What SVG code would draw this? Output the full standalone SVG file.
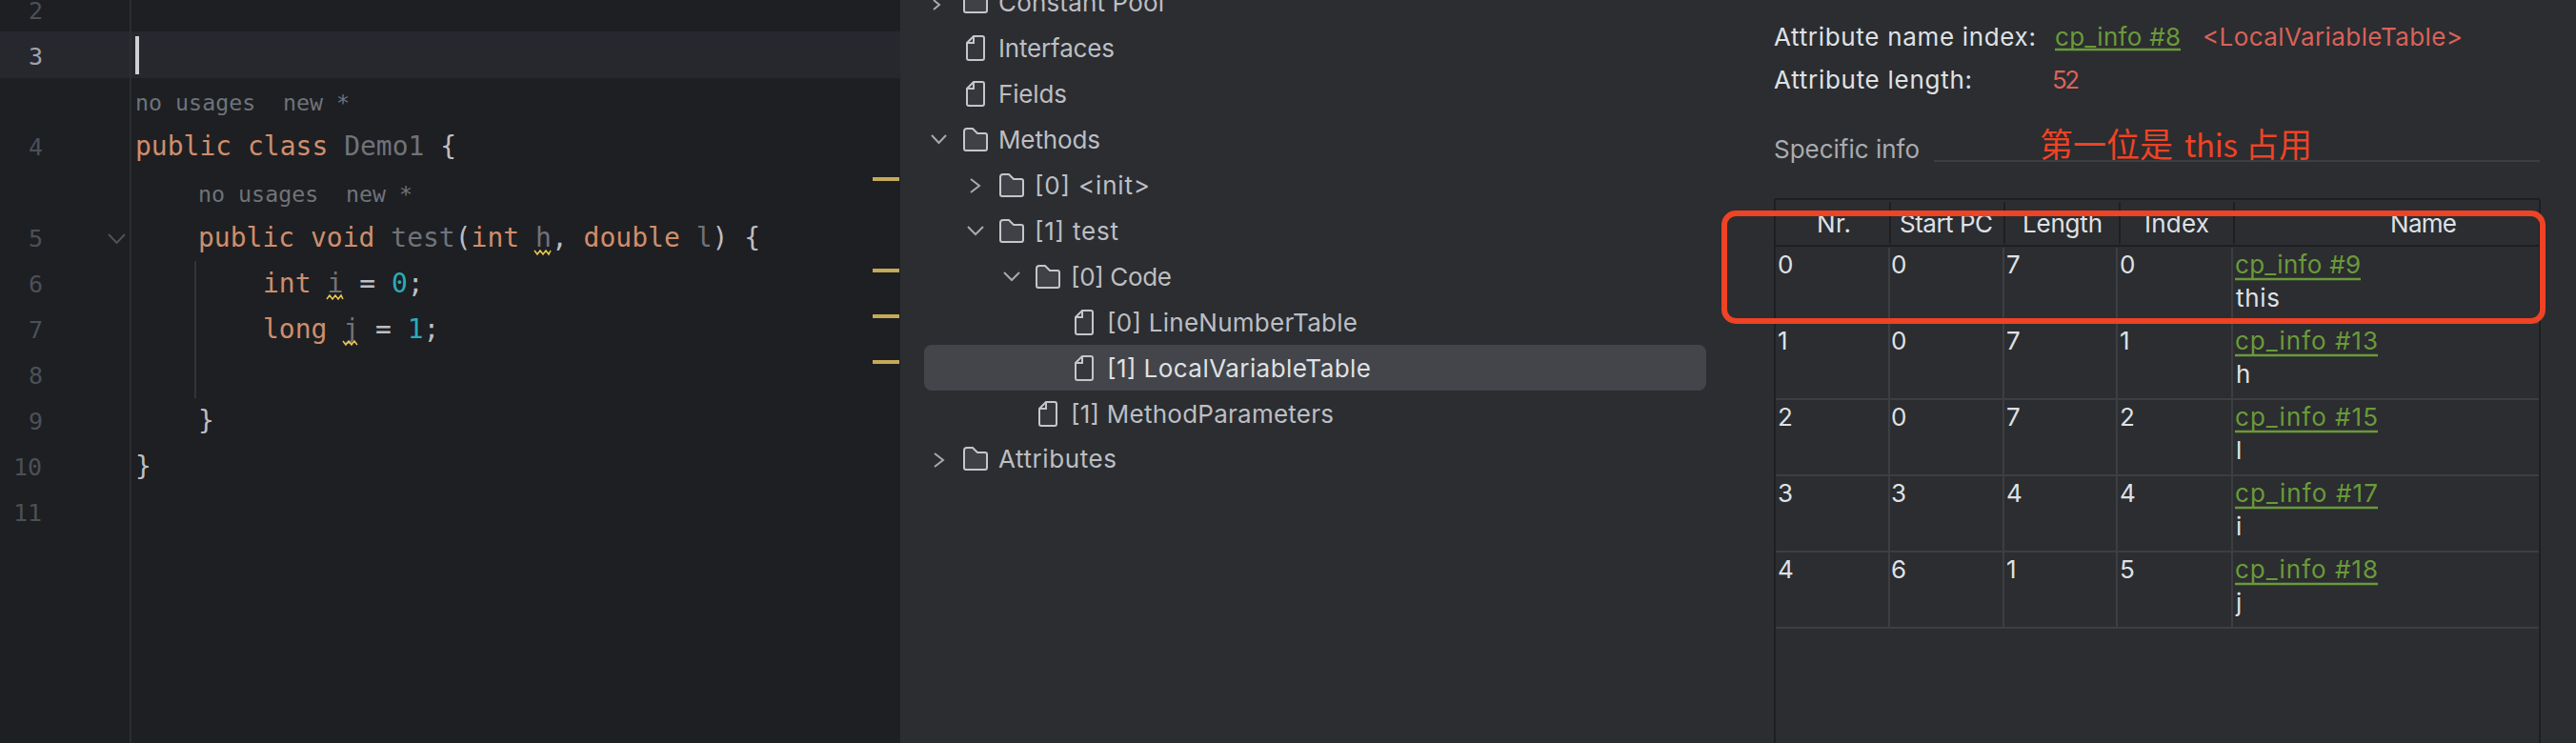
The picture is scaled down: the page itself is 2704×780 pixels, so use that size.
<svg xmlns="http://www.w3.org/2000/svg" xmlns:xlink="http://www.w3.org/1999/xlink" width="2704" height="780" viewBox="0 0 2704 780">
<style>
.m{font-family:"DejaVu Sans Mono","Liberation Mono",monospace;font-size:28px;fill:#bcbec4}
.k{fill:#cf8e6d}.u{fill:#6f737a}.n{fill:#2aacb8}
.g{font-family:"DejaVu Sans Mono","Liberation Mono",monospace;font-size:25px;fill:#4b5059}
.h{font-family:"DejaVu Sans Mono","Liberation Mono",monospace;font-size:23.3px;fill:#6f737a}
.t{font-family:Inter,"Noto Sans",sans-serif;font-size:26px;fill:#bcbec4}
.w{font-family:Inter,"Noto Sans",sans-serif;font-size:26px;fill:#dfe1e5}
.c{font-family:Inter,"Noto Sans",sans-serif;font-size:26px;fill:#6a9a3a}
.r{font-family:Inter,"Noto Sans",sans-serif;font-size:26px;fill:#d9625a}
.chev{fill:none;stroke:#a8aab0;stroke-width:2}
.wave{fill:none;stroke:#e8c84f;stroke-width:1.6}
.dark{stroke:#1e1f22;stroke-width:2;fill:none}
.row{stroke:#3c3e41;stroke-width:2;fill:none}
.ul{stroke:#6a9a3a;stroke-width:2.4;fill:none}
</style>
<defs>
<path id="folder" d="M1 4Q1 1 4 1H10L15 6H23Q25 6 25 8V22Q25 24 23 24H3Q1 24 1 22Z" fill="#3f4146" stroke="#c4c6cc" stroke-width="2"/>
<path id="file" d="M1 8L8 1H17Q19 1 19 3V24Q19 26 17 26H3Q1 26 1 24ZM8 1V8H1" fill="#35373b" stroke="#c4c6cc" stroke-width="2"/>
</defs>
<rect width="2704" height="780" fill="#2b2d30"/>
<g id="editor">
<rect x="0" y="0" width="945" height="780" fill="#1e1f22"/>
<rect x="0" y="33" width="945" height="49" fill="#26282e"/>
<line x1="137" y1="0" x2="137" y2="780" stroke="#2b2d30" stroke-width="2"/>
<line x1="205" y1="274" x2="205" y2="418" stroke="#313438" stroke-width="2"/>
<rect x="142" y="38" width="4" height="40" fill="#ced0d6"/>
<g fill="#c4a95a">
<rect x="916" y="186" width="28" height="4"/><rect x="916" y="282" width="28" height="4"/><rect x="916" y="330" width="28" height="4"/><rect x="916" y="378" width="28" height="4"/>
</g>
<path d="M114 246L122.500 255L131 246" fill="none" stroke="#4e5157" stroke-width="2"/>
<text class="g" x="30" y="20">2</text>
<text class="g" x="30" y="68" style="fill:#a1a3ab">3</text>
<text class="g" x="30" y="163">4</text>
<text class="g" x="30" y="259">5</text>
<text class="g" x="30" y="307">6</text>
<text class="g" x="30" y="355">7</text>
<text class="g" x="30" y="403">8</text>
<text class="g" x="30" y="451">9</text>
<text class="g" x="14" y="499">10</text>
<text class="g" x="14" y="547">11</text>
<text class="h" x="142" y="116">no usages <tspan x="297">new *</tspan></text>
<text class="h" x="208" y="212">no usages <tspan x="363">new *</tspan></text>
<text class="m" x="142" y="163"><tspan class="k">public class </tspan><tspan class="u">Demo1</tspan> {</text>
<text class="m" x="208" y="259"><tspan class="k">public void </tspan><tspan class="u">test</tspan>(<tspan class="k">int </tspan><tspan class="u">h</tspan>, <tspan class="k">double </tspan><tspan class="u">l</tspan>) {</text>
<text class="m" x="276" y="307"><tspan class="k">int </tspan><tspan class="u">i</tspan> = <tspan class="n">0</tspan>;</text>
<text class="m" x="276" y="355"><tspan class="k">long </tspan><tspan class="u">j</tspan> = <tspan class="n">1</tspan>;</text>
<text class="m" x="208" y="451">}</text>
<text class="m" x="142" y="499">}</text>
<path class="wave" d="M561 263L564 267L567 263L570 267L573 263L576 267L578 263"/>
<path class="wave" d="M343 314L346 310L349 314L352 310L355 314L358 310L360 314"/>
<path class="wave" d="M360 358L363 362L366 358L369 362L372 358L375 362"/>
</g>
<g id="tree">
<rect x="970" y="362" width="821" height="48" rx="8" fill="#43454a"/>
<path class="chev" d="M980 0L986 5L980 10"/>
<path class="chev" d="M978 142L985.500 150L993 142"/>
<path class="chev" d="M1019 188L1028 195L1019 202"/>
<path class="chev" d="M1016 238L1024 246L1032 238"/>
<path class="chev" d="M1054 286L1062 294L1070 286"/>
<path class="chev" d="M981 476L990 483L981 490"/>
<use xlink:href="#folder" href="#folder" x="1011" y="-11"/>
<use xlink:href="#file" href="#file" x="1014" y="37"/>
<use xlink:href="#file" href="#file" x="1014" y="85"/>
<use xlink:href="#folder" href="#folder" x="1011" y="134"/>
<use xlink:href="#folder" href="#folder" x="1049" y="182"/>
<use xlink:href="#folder" href="#folder" x="1049" y="230"/>
<use xlink:href="#folder" href="#folder" x="1087" y="278"/>
<use xlink:href="#file" href="#file" x="1128" y="325"/>
<use xlink:href="#file" href="#file" x="1128" y="373"/>
<use xlink:href="#file" href="#file" x="1090" y="421"/>
<use xlink:href="#folder" href="#folder" x="1011" y="469"/>
<text class="t" x="1048" y="12" textLength="174">Constant Pool</text>
<text class="t" x="1048" y="60" textLength="122">Interfaces</text>
<text class="t" x="1048" y="108" textLength="72">Fields</text>
<text class="t" x="1048" y="156" textLength="107">Methods</text>
<text class="t" x="1086" y="204" textLength="121">[0] &lt;init&gt;</text>
<text class="t" x="1086" y="252" textLength="88">[1] test</text>
<text class="t" x="1124" y="300" textLength="106">[0] Code</text>
<text class="t" x="1162" y="348" textLength="263">[0] LineNumberTable</text>
<text class="w" x="1162" y="396" textLength="277">[1] LocalVariableTable</text>
<text class="t" x="1124" y="444" textLength="276">[1] MethodParameters</text>
<text class="t" x="1048" y="491" textLength="124">Attributes</text>
</g>
<g id="details">
<text class="w" x="1862" y="48" textLength="275">Attribute name index:</text>
<text class="c" x="2157" y="48" textLength="132">cp_info #8</text>
<line class="ul" x1="2157" y1="52" x2="2289" y2="52"/>
<text class="r" x="2312" y="48" textLength="273">&lt;LocalVariableTable&gt;</text>
<text class="w" x="1862" y="93" textLength="208">Attribute length:</text>
<text class="r" x="2154" y="93" textLength="29">52</text>
<text class="t" x="1862" y="166" textLength="153" style="fill:#a9abb1">Specific info</text>
<line x1="2030" y1="169" x2="2666" y2="169" stroke="#3c3e41" stroke-width="2"/>
</g>
<g id="table">
<path class="dark" d="M1863 209H2666M1863 209V780M2666 209V780M1863 258H2666" />
<path class="dark" d="M1984 212V256M2104 212V256M2225 212V256M2345 212V256"/>
<path class="row" d="M1983 260V659M2103 260V659M2222 260V659M2343 260V659"/>
<path class="row" d="M1864 339H2665M1864 419H2665M1864 499H2665M1864 579H2665M1864 659H2665"/>
<text class="w" x="1907" y="244" textLength="36">Nr.</text>
<text class="w" x="1994" y="244" textLength="98">Start PC</text>
<text class="w" x="2123" y="244" textLength="84">Length</text>
<text class="w" x="2251" y="244" textLength="68">Index</text>
<text class="w" x="2509" y="244" textLength="70">Name</text>
<g id="row0">
<text class="w" x="1866" y="287">0</text><text class="w" x="1985" y="287">0</text><text class="w" x="2106" y="287">7</text><text class="w" x="2225" y="287">0</text>
<text class="c" x="2346" y="287" textLength="132">cp_info #9</text><line class="ul" x1="2346" y1="293" x2="2478" y2="293"/>
<text class="w" x="2347" y="322" textLength="46">this</text>
</g>
<g id="row1">
<text class="w" x="1866" y="367">1</text><text class="w" x="1985" y="367">0</text><text class="w" x="2106" y="367">7</text><text class="w" x="2225" y="367">1</text>
<text class="c" x="2346" y="367" textLength="150">cp_info #13</text><line class="ul" x1="2346" y1="373" x2="2496" y2="373"/>
<text class="w" x="2347" y="402">h</text>
</g>
<g id="row2">
<text class="w" x="1866" y="447">2</text><text class="w" x="1985" y="447">0</text><text class="w" x="2106" y="447">7</text><text class="w" x="2225" y="447">2</text>
<text class="c" x="2346" y="447" textLength="150">cp_info #15</text><line class="ul" x1="2346" y1="453" x2="2496" y2="453"/>
<text class="w" x="2347" y="482">l</text>
</g>
<g id="row3">
<text class="w" x="1866" y="527">3</text><text class="w" x="1985" y="527">3</text><text class="w" x="2106" y="527">4</text><text class="w" x="2225" y="527">4</text>
<text class="c" x="2346" y="527" textLength="150">cp_info #17</text><line class="ul" x1="2346" y1="533" x2="2496" y2="533"/>
<text class="w" x="2347" y="562">i</text>
</g>
<g id="row4">
<text class="w" x="1866" y="607">4</text><text class="w" x="1985" y="607">6</text><text class="w" x="2106" y="607">1</text><text class="w" x="2225" y="607">5</text>
<text class="c" x="2346" y="607" textLength="150">cp_info #18</text><line class="ul" x1="2346" y1="613" x2="2496" y2="613"/>
<text class="w" x="2347" y="642">j</text>
</g>
</g>
<g id="annotation">
<rect x="1810" y="224" width="859" height="113" rx="12" fill="none" stroke="#ee4325" stroke-width="6"/>
<text y="165" style="font-family:'Noto Sans CJK SC','Noto Sans',sans-serif;font-size:35px;fill:#ee4325"><tspan x="2141">第一位是</tspan> <tspan x="2293" style="font-size:33px" textLength="56">this</tspan> <tspan x="2357">占用</tspan></text>
</g>
</svg>
